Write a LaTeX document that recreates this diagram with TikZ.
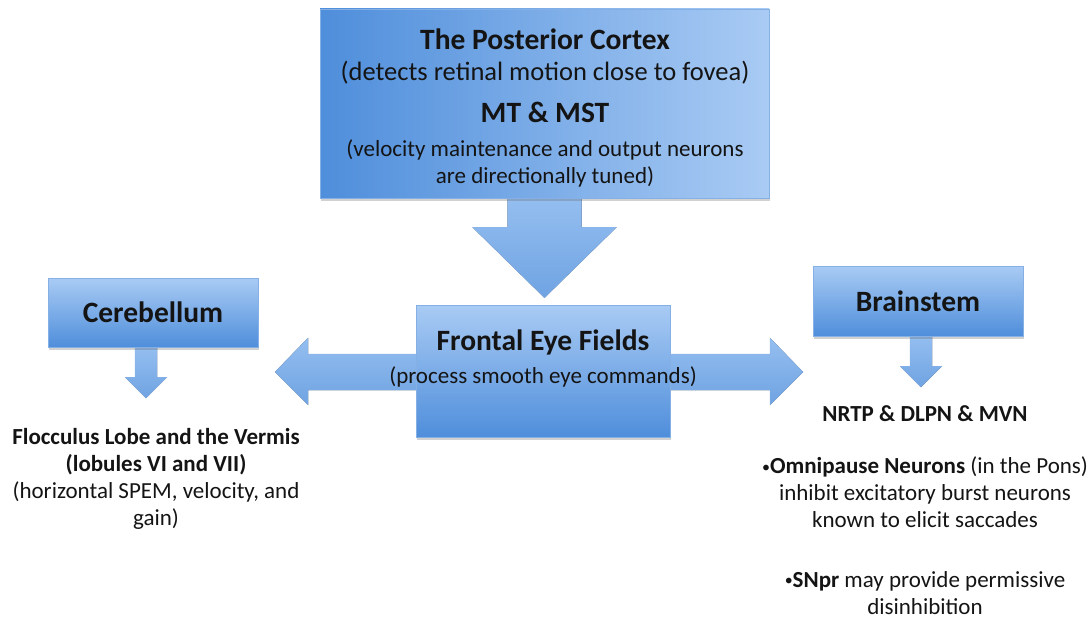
\documentclass[tikz,border=0pt]{standalone}
\usepackage{fontspec}
\setmainfont{Carlito}
\usetikzlibrary{calc,shadows,backgrounds}

\definecolor{boxlight}{HTML}{A9CBF4}
\definecolor{boxdark}{HTML}{4F8EDB}
\definecolor{arrowlight}{HTML}{94BEF0}
\definecolor{arrowdark}{HTML}{6FA3E2}
\definecolor{inktext}{HTML}{141414}

\newcommand{\smalldot}{{\fontsize{16}{16}\selectfont\mdseries\raisebox{1.5pt}{•}}}

\tikzset{
  brainbox/.style={inner sep=0pt, draw=boxdark!70!white, line width=0.4pt,
    drop shadow={shadow xshift=1pt, shadow yshift=-3pt, opacity=0.3, fill=black!60}},
  bigtitle/.style={font=\fontsize{29.5}{32}\selectfont\bfseries, text=inktext, inner sep=0pt},
  plaintext/.style={font=\fontsize{23}{26.7}\selectfont, text=inktext, inner sep=0pt, align=center},
  bigarrow/.style={top color=arrowlight, bottom color=arrowdark, draw=arrowdark!80!white, line width=0.3pt},
}

\begin{document}
\begin{tikzpicture}[x=1pt,y=-1pt]
    \useasboundingbox (0,0) rectangle (1091,623);
    % boxes
    \node [brainbox, left color=boxdark, right color=boxlight, minimum width=449pt, minimum height=189pt] (cortex) at (544.5,103.5) {};
    \node [brainbox, top color=boxlight, bottom color=boxdark, minimum width=254pt, minimum height=132pt] (fef) at (543,371) {};
    \node [brainbox, bigtitle, top color=boxlight, bottom color=boxdark, minimum width=210pt, minimum height=69pt] (cereb) at (153,312.5) {Cerebellum};
    \node [brainbox, bigtitle, top color=boxlight, bottom color=boxdark, minimum width=210pt, minimum height=70pt] (brain) at (918,301) {Brainstem};
    % text in the boxes (base = last line)
    \node [bigtitle, anchor=base] (cortexname) at (545,50) {The Posterior Cortex};
    \node [plaintext, anchor=base, font=\fontsize{26.5}{30}\selectfont] (cortexnote) at (545,81) {(detects retinal motion close to fovea)};
    \node [bigtitle, anchor=base] (mtname) at (545,122) {MT \& MST};
    \node [plaintext, anchor=base] (mtnote) at (545,183) {(velocity maintenance and output neurons\\are directionally tuned)};
    \node [bigtitle, anchor=base] (fefname) at (543,350) {Frontal Eye Fields};
    \node [plaintext, anchor=base] (fefnote) at (543,383) {(process smooth eye commands)};
    % text under the boxes
    \node [plaintext, anchor=base] (floccnote) at (156,525) {\textbf{Flocculus Lobe and the Vermis}\\\textbf{(lobules VI and VII)}\\(horizontal SPEM, velocity, and\\gain)};
    \node [plaintext, anchor=base, font=\fontsize{23}{26.7}\selectfont\bfseries] (nucleinote) at (925,421) {NRTP \& DLPN \& MVN};
    \node [plaintext, anchor=base] (omninote) at (925,527) {\smalldot\textbf{Omnipause Neurons} (in the Pons)\\inhibit excitatory burst neurons\\known to elicit saccades};
    \node [plaintext, anchor=base] (snprnote) at (925,614) {\smalldot\textbf{SNpr} may provide permissive\\disinhibition};
    \coordinate (lefttip) at (275,372);
    \coordinate (righttip) at (803,372);
    % arrows
    \begin{pgfonlayer}{background}
        \fill [bigarrow] ($(cortex.south)+(-37,0)$) -- ($(cortex.south)+(37,0)$) -- ($(cortex.south)+(37,29)$) -- ($(cortex.south)+(72,29)$)
            -- ($(cortex.south |- fef.north)+(0,-7)$) -- ($(cortex.south)+(-72,29)$) -- ($(cortex.south)+(-37,29)$) -- cycle;
        \fill [bigarrow] (lefttip) -- ($(lefttip)+(33,-34)$) -- ($(lefttip)+(33,-18)$) -- ($(righttip)+(-33,-18)$) -- ($(righttip)+(-33,-34)$)
            -- (righttip) -- ($(righttip)+(-33,33)$) -- ($(righttip)+(-33,18)$) -- ($(lefttip)+(33,18)$) -- ($(lefttip)+(33,33)$) -- cycle;
        \foreach \b/\dx in {cereb/-7,brain/3} {
        \fill [bigarrow] ($(\b.south)+(\dx-11,0)$) -- ($(\b.south)+(\dx+11,0)$) -- ($(\b.south)+(\dx+11,30)$) -- ($(\b.south)+(\dx+21,30)$)
            -- ($(\b.south)+(\dx,51)$) -- ($(\b.south)+(\dx-21,30)$) -- ($(\b.south)+(\dx-11,30)$) -- cycle;
        }
    \end{pgfonlayer}
\end{tikzpicture}
\end{document}
